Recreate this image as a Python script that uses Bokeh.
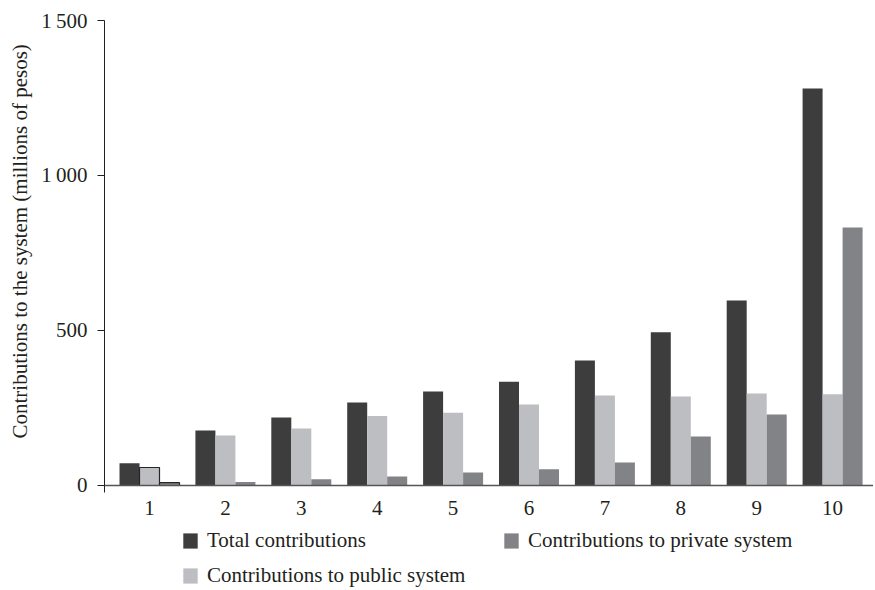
from bokeh.plotting import figure
from bokeh.layouts import column
from bokeh.models import (Range1d, FixedTicker, Span, Title, Legend, LegendItem,
                          ColumnDataSource)
from bokeh.transform import dodge
from bokeh.embed import file_html
from bokeh.resources import INLINE

# ---- data ----
deciles = [1, 2, 3, 4, 5, 6, 7, 8, 9, 10]
total_contrib = [72, 177, 219, 268, 303, 335, 403, 494, 597, 1281]
public_contrib = [58, 161, 184, 224, 235, 261, 290, 287, 297, 294]
private_contrib = [9, 11, 20, 29, 42, 52, 74, 158, 229, 832]
y_ticks = [0, 500, 1000, 1500]
y_tick_labels = ["0", "500", "1\u2009000", "1\u2009500"]
series_names = ["Total contributions", "Contributions to public system",
                "Contributions to private system"]
y_title = "Contributions to the system (millions of pesos)"

# ---- styles ----
FONT = "Liberation Serif"
FS = "21px"
TXT = "#231f20"
C_TOTAL = "#3d3d3d"
C_PUBLIC = "#bdbec1"
C_PRIVATE = "#828387"
BW = 0.2635

src = ColumnDataSource(dict(
    x=deciles, total=total_contrib, public=public_contrib, private=private_contrib,
    outline=[1.0 if d == deciles[0] else 0.0 for d in deciles],
))

p = figure(width=873, height=525, output_backend="svg", toolbar_location=None,
           x_range=Range1d(0.407, 10.539), y_range=Range1d(-22.6, 1500),
           min_border_left=104, min_border_top=20, min_border_bottom=33,
           min_border_right=0)
p.outline_line_color = None
p.grid.visible = False
p.background_fill_color = "white"
p.border_fill_color = "white"

p.vbar(x=dodge("x", -BW, range=p.x_range), top="total", width=BW, bottom=0,
       source=src, fill_color=C_TOTAL, line_color=None)
p.vbar(x=dodge("x", 0, range=p.x_range), top="public", width=BW, bottom=0,
       source=src, fill_color=C_PUBLIC, line_color="#262626",
       line_alpha="outline", line_width=1.2)
p.vbar(x=dodge("x", BW, range=p.x_range), top="private", width=BW, bottom=0,
       source=src, fill_color=C_PRIVATE, line_color="#262626",
       line_alpha="outline", line_width=1.2)

# baseline at zero
p.add_layout(Span(location=0, dimension="width", line_color="#555555", line_width=1.6))

# y axis
ya = p.yaxis[0]
ya.ticker = FixedTicker(ticks=y_ticks)
ya.major_label_overrides = {t: l for t, l in zip(y_ticks, y_tick_labels)}
ya.minor_tick_line_color = None
ya.major_tick_out = 7
ya.major_tick_in = 0
ya.axis_line_color = TXT
ya.major_tick_line_color = TXT
ya.major_label_standoff = 10
ya.major_label_text_font = FONT
ya.major_label_text_font_size = FS
ya.major_label_text_color = TXT

# x axis
xa = p.xaxis[0]
xa.ticker = FixedTicker(ticks=deciles)
xa.axis_line_color = None
xa.major_tick_line_color = None
xa.minor_tick_line_color = None
xa.major_label_standoff = 2
xa.major_label_text_font = FONT
xa.major_label_text_font_size = FS
xa.major_label_text_color = TXT

# y title (side title so it can sit off-centre like the reference)
p.add_layout(Title(text=y_title, align="left", offset=54, vertical_align="middle",
                   standoff=12, text_font=FONT, text_font_size=FS,
                   text_font_style="normal", text_color=TXT), "left")

# ---- legend strip below the chart ----
# proxy renderers for the legend: zero-height bars, so nothing is drawn
lg = figure(width=873, height=63, output_backend="svg", toolbar_location=None,
            x_range=Range1d(0, 11), y_range=Range1d(0, 1),
            min_border_left=104, min_border_right=0, min_border_top=0,
            min_border_bottom=0, x_axis_type=None, y_axis_type=None)
lg.outline_line_color = None
lg.grid.visible = False
lg.border_fill_color = "white"
proxy_total = lg.vbar(x="x", top=0, bottom=0, width=BW, source=src,
                      fill_color=C_TOTAL, line_color=None)
proxy_public = lg.vbar(x="x", top=0, bottom=0, width=BW, source=src,
                       fill_color=C_PUBLIC, line_color=None)
proxy_private = lg.vbar(x="x", top=0, bottom=0, width=BW, source=src,
                        fill_color=C_PRIVATE, line_color=None)

legend = Legend(items=[LegendItem(label=series_names[0], renderers=[proxy_total]),
                       LegendItem(label=series_names[1], renderers=[proxy_public]),
                       LegendItem(label=series_names[2], renderers=[proxy_private])],
                location=(77, 0), orientation="vertical", nrows=2)
legend.border_line_color = None
legend.background_fill_alpha = 0
legend.padding = 0
legend.margin = 0
legend.glyph_width = 18
legend.glyph_height = 19
legend.label_height = 19
legend.label_width = 285
legend.label_standoff = 8
legend.spacing = 10
legend.label_text_font = FONT
legend.label_text_font_size = FS
legend.label_text_color = TXT
legend.label_text_baseline = "middle"
lg.add_layout(legend, "center")

open("out.html", "w").write(file_html(column(p, lg), INLINE))
